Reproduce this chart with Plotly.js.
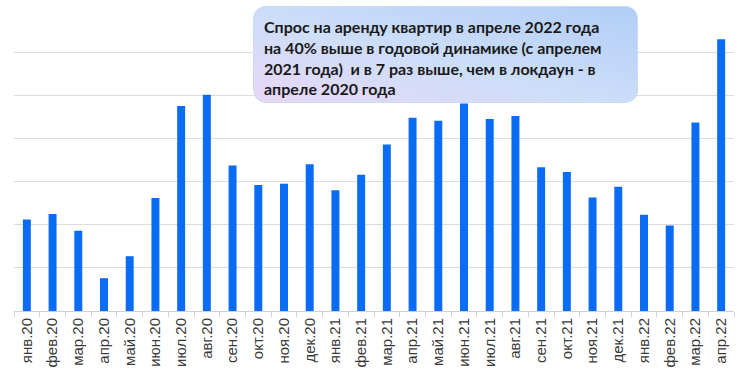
<!DOCTYPE html>
<html>
<head>
<meta charset="utf-8">
<script src="https://cdn.plot.ly/plotly-3.0.1.min.js"></script>
<style>html,body{margin:0;padding:0;background:#fff;}#chart{width:740px;height:371px;}</style>
</head>
<body>
<div id="chart"></div>
<script>
const months = ["янв.20","фев.20","мар.20","апр.20","май.20","июн.20","июл.20","авг.20","сен.20","окт.20","ноя.20","дек.20",
  "янв.21","фев.21","мар.21","апр.21","май.21","июн.21","июл.21","авг.21","сен.21","окт.21","ноя.21","дек.21",
  "янв.22","фев.22","мар.22","апр.22"];
const demand = [2.12,2.25,1.86,0.76,1.27,2.62,4.75,5.01,3.37,2.92,2.95,3.40,
  2.80,3.16,3.86,4.48,4.41,4.81,4.45,4.52,3.33,3.22,2.63,2.88,
  2.23,1.98,4.37,6.30];
const noteText = "Спрос на аренду квартир в апреле 2022 года<br>на 40% выше в годовой динамике (с апрелем<br>2021 года)  и в 7 раз выше, чем в локдаун - в<br>апреле 2020 года";

const boxSvg = '<svg xmlns="http://www.w3.org/2000/svg" width="385" height="97" viewBox="0 0 385 97">' +
  '<defs><linearGradient id="g" x1="0" y1="1" x2="1" y2="0">' +
  '<stop offset="0" stop-color="#e8d7f7"/><stop offset="0.45" stop-color="#cddef9"/><stop offset="1" stop-color="#b1cdf6"/>' +
  '</linearGradient></defs>' +
  '<rect x="0.5" y="0.5" width="384" height="96" rx="13" ry="13" fill="url(#g)" stroke="#c9daf5" stroke-width="1"/></svg>';
const boxSrc = "data:image/svg+xml;charset=utf-8," + encodeURIComponent(boxSvg);

const trace = {
  type: "bar",
  x: months,
  y: demand,
  marker: {color: "#0a6cf5"},
  hoverinfo: "x+y"
};

const layout = {
  width: 740, height: 371,
  margin: {l: 14, r: 6, t: 9, b: 60},
  paper_bgcolor: "#ffffff",
  plot_bgcolor: "#ffffff",
  showlegend: false,
  bargap: 0.69,
  font: {family: "Liberation Sans, Arial, sans-serif", color: "#404040"},
  xaxis: {
    type: "category",
    tickangle: -90,
    tickfont: {family: "Liberation Sans, Arial, sans-serif", size: 15, color: "#3a3a3a"},
    showline: true, linecolor: "#d0d0d0", linewidth: 1,
    ticks: "outside", ticklen: 5, tickcolor: "#d0d0d0",
    tickson: "boundaries",
    showgrid: false,
    fixedrange: true
  },
  yaxis: {
    range: [0, 7],
    dtick: 1,
    showticklabels: false,
    gridcolor: "#dcdcdc", gridwidth: 1,
    zeroline: false,
    fixedrange: true
  },
  images: [{
    source: boxSrc,
    xref: "paper", yref: "paper",
    x: 0.332, y: 1.011,
    sizex: 0.535, sizey: 0.322,
    xanchor: "left", yanchor: "top",
    sizing: "stretch",
    layer: "above"
  }],
  annotations: [{
    xref: "paper", yref: "paper",
    x: 0.345, y: 0.838,
    xanchor: "left", yanchor: "middle",
    align: "left",
    showarrow: false,
    text: "<b>" + noteText + "</b>",
    font: {family: "Lato, Carlito, 'Open Sans', sans-serif", size: 16, color: "#1a1a1a"}
  }]
};

Plotly.newPlot("chart", [trace], layout, {displayModeBar: false, staticPlot: true});
</script>
</body>
</html>
